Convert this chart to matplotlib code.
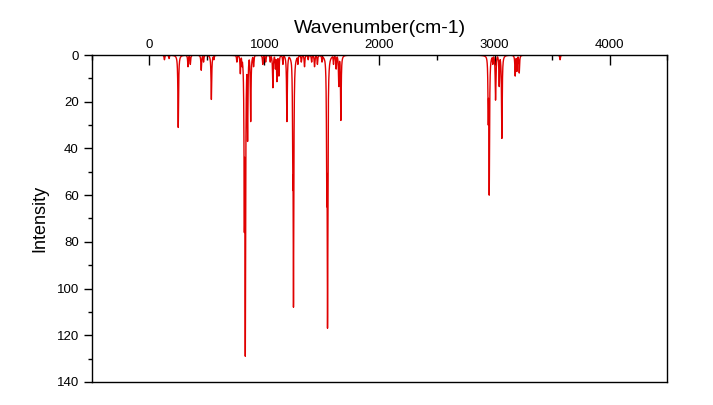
import numpy as np
import matplotlib
matplotlib.use("Agg")
import matplotlib.pyplot as plt
from matplotlib.ticker import MultipleLocator

plt.rcParams['font.family'] = ['Liberation Sans', 'DejaVu Sans']

# peak positions (cm-1) and depths
peak_pos = [130, 170, 250, 335, 355, 450, 470, 538, 560,
            760, 790, 805, 825, 833, 853, 880, 905, 985, 1010, 1050,
            1073, 1095, 1108, 1125, 1160, 1195, 1247, 1252, 1290, 1320,
            1348, 1380, 1410, 1435, 1460, 1500, 1542, 1548, 1600, 1623,
            1646, 1664, 2946, 2954, 2985, 3009, 3041, 3064, 3180, 3195,
            3215, 3570]
peak_int = [2, 1.5, 31, 5, 4, 6.5, 3, 19, 2,
            3, 8, 5, 76, 129, 37, 28.5, 5, 4, 3, 3,
            14, 6, 11.4, 9, 4, 28.5, 58, 108, 4, 3,
            5, 2, 3, 5, 4, 3, 65, 117, 4, 6,
            13.5, 28, 30, 60, 4, 19.3, 13.5, 35.7, 9, 7,
            7.7, 2]

x_start, x_end = -350, 4000
hwhm = 3.5

# broadened spectrum: envelope of the lorentzian peaks
wn = np.arange(x_start, x_end + 0.25, 0.25)
spec = np.zeros_like(wn)
for p, h in zip(peak_pos, peak_int):
    spec = np.maximum(spec, h / (1 + ((wn - p) / hwhm) ** 2))

fig = plt.figure(figsize=(7.13, 4.05), dpi=100)
ax = fig.add_axes([0.129, 0.057, 0.8065, 0.807])
ax.plot(wn, spec, color='#e00000', lw=1.0)

ax.set_xlim(-500, 4500)
ax.set_ylim(140, 0)

ax.xaxis.tick_top()
ax.xaxis.set_label_position('top')
ax.xaxis.set_major_locator(MultipleLocator(1000))
ax.xaxis.set_minor_locator(MultipleLocator(500))
ax.tick_params(axis='x', which='major', direction='in', length=7, width=1,
               labelsize=9.5, pad=3)
ax.tick_params(axis='x', which='minor', direction='in', length=3.5, width=1)

ax.yaxis.set_major_locator(MultipleLocator(20))
ax.yaxis.set_minor_locator(MultipleLocator(10))
ax.tick_params(axis='y', which='major', direction='out', length=6, width=1,
               labelsize=9.5)
ax.tick_params(axis='y', which='minor', direction='out', length=3, width=1)

ax.set_xlabel('Wavenumber(cm-1)', fontsize=14, labelpad=4)
ax.set_ylabel('Intensity', fontsize=13, labelpad=6)

for s in ax.spines.values():
    s.set_linewidth(1)

fig.savefig('out.png', dpi=100)
